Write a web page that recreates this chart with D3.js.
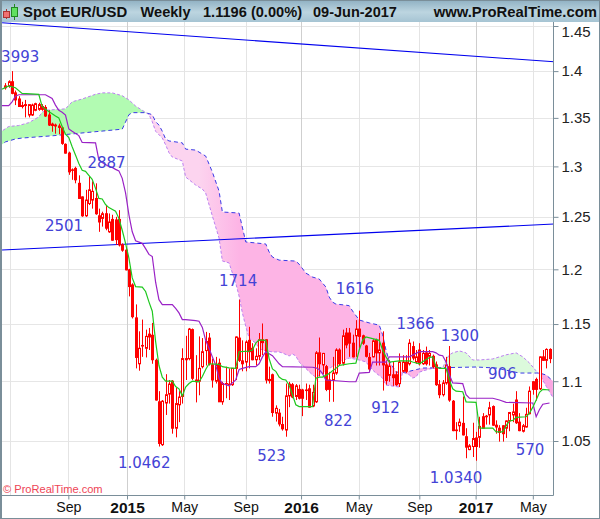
<!DOCTYPE html>
<html>
<head>
<meta charset="utf-8">
<style>
  body { margin: 0; background: #fff; }
  text { font-family: "Liberation Sans", Arial, sans-serif; }
  .note { font-family: "DejaVu Sans", sans-serif; font-size: 15px; fill: #4343d6; }
</style>
<script src="https://d3js.org/d3.v7.min.js"></script>
</head>
<body>
<script>
  // weekly candles, first one is the week of 21 Apr 2014
  const openP = [
    1.382,1.384,1.3885,1.3765,1.370,1.363,1.364,1.353,1.353,1.358,
    1.359,1.362,1.361,1.353,1.3435,1.3425,1.3415,1.3395,1.3225,1.3135,
    1.2965,1.298,1.283,1.2695,1.251,1.263,1.2664,1.268,1.251,1.2485,
    1.253,1.2355,1.2475,1.247,1.2475,1.223,1.218,1.1995,1.1855,1.1555,
    1.115,1.131,1.1285,1.141,1.140,1.118,1.0825,1.047,1.0815,1.089,
    1.100,1.0605,1.080,1.087,1.1195,1.1195,1.145,1.101,1.100,1.1125,
    1.1265,1.1375,1.114,1.1,1.1155,1.0825,1.098,1.0975,1.097,1.111,
    1.1375,1.1175,1.1165,1.1355,1.1285,1.1185,1.1215,1.136,1.136,1.1015,
    1.1055,1.073,1.073,1.0635,1.059,1.0875,1.097,1.087,1.093,1.0925,
    1.0925,1.0935,1.079,1.0825,1.1245,1.114,1.1125,1.101,1.101,1.107,
    1.127,1.1155,1.142,1.142,1.133,1.1395,1.1455,1.1395,1.1305,1.1205,
    1.121,1.1355,1.1245,1.133,1.114,1.105,1.1055,1.1055,1.098,1.1085,
    1.1165,1.115,1.130,1.1165,1.127,1.115,1.1245,1.1215,1.1215,1.114,
    1.097,1.0885,1.0985,1.1125,1.083,1.059,1.0625,1.0645,1.0535,1.043,
    1.0455,1.0525,1.053,1.070,1.0705,1.0715,1.0785,1.063,1.0605,1.0625,
    1.0605,1.0665,1.0715,1.084,1.0655,1.058,1.0615,1.0725,1.0995,1.1015,
    1.0935,1.121,1.118,1.1275];
  const highP = [
    1.387,1.390,1.400,1.379,1.373,1.367,1.369,1.364,1.365,1.366,
    1.366,1.3645,1.3635,1.358,1.345,1.344,1.344,1.341,1.3235,1.315,
    1.298,1.2997,1.291,1.270,1.2765,1.290,1.285,1.283,1.258,1.255,
    1.2605,1.2533,1.252,1.250,1.2565,1.2245,1.220,1.2005,1.187,1.1677,
    1.1435,1.154,1.145,1.1465,1.151,1.1195,1.0915,1.084,1.106,1.101,
    1.101,1.0945,1.0915,1.1285,1.1395,1.1465,1.146,1.1225,1.139,1.1375,
    1.143,1.142,1.1195,1.121,1.1195,1.0995,1.1125,1.111,1.111,1.139,
    1.172,1.1355,1.1355,1.1475,1.133,1.1285,1.142,1.1505,1.1365,1.1125,
    1.1065,1.0795,1.0765,1.070,1.098,1.0995,1.0985,1.0975,1.097,1.0935,
    1.098,1.097,1.097,1.126,1.138,1.1245,1.114,1.108,1.121,1.1285,
    1.1285,1.145,1.1465,1.1465,1.1405,1.1535,1.162,1.1405,1.1315,1.1245,
    1.1365,1.137,1.142,1.1435,1.117,1.118,1.1165,1.1085,1.124,1.1225,
    1.1225,1.1365,1.1345,1.127,1.133,1.127,1.13,1.127,1.123,1.117,
    1.101,1.101,1.121,1.1305,1.084,1.0655,1.0685,1.087,1.0605,1.0475,
    1.065,1.0575,1.070,1.073,1.0715,1.0825,1.0795,1.067,1.063,1.063,
    1.067,1.074,1.081,1.0915,1.073,1.064,1.0775,1.0955,1.100,1.103,
    1.1215,1.127,1.1285,1.1285];
  const lowP = [
    1.380,1.382,1.375,1.3635,1.362,1.360,1.3505,1.3505,1.352,1.357,
    1.3575,1.3575,1.351,1.3415,1.3355,1.3335,1.333,1.322,1.313,1.2915,
    1.2865,1.283,1.268,1.250,1.250,1.2615,1.258,1.252,1.2355,1.2405,
    1.237,1.2345,1.227,1.223,1.2215,1.2165,1.199,1.175,1.155,1.111,
    1.109,1.121,1.1205,1.127,1.115,1.0835,1.0455,1.046,1.0715,1.081,
    1.056,1.053,1.0655,1.081,1.101,1.118,1.101,1.082,1.088,1.111,
    1.1135,1.1135,1.0945,1.098,1.0825,1.080,1.0855,1.084,1.096,1.101,
    1.1165,1.1085,1.1085,1.111,1.118,1.1135,1.118,1.1225,1.098,1.098,
    1.070,1.066,1.062,1.0585,1.0535,1.078,1.0855,1.084,1.0845,1.0705,
    1.084,1.0775,1.078,1.0815,1.104,1.106,1.0915,1.0825,1.0825,1.1055,
    1.1135,1.1135,1.1285,1.121,1.1205,1.121,1.127,1.1315,1.1205,1.1085,
    1.1205,1.1135,1.1135,1.092,1.097,1.0995,1.096,1.096,1.095,1.1075,
    1.107,1.1135,1.118,1.115,1.1135,1.114,1.1135,1.1135,1.111,1.096,
    1.0855,1.087,1.097,1.0825,1.058,1.051,1.0575,1.0545,1.036,1.0425,
    1.037,1.034,1.0445,1.0605,1.0635,1.0635,1.0625,1.056,1.0495,1.0495,
    1.0525,1.058,1.0655,1.064,1.058,1.057,1.061,1.072,1.0885,1.0835,
    1.0925,1.1175,1.111,1.1155];
  const closeP = [
    1.384,1.3885,1.376,1.369,1.362,1.362,1.363,1.364,1.3635,1.365,
    1.364,1.359,1.352,1.3425,1.342,1.3415,1.340,1.3235,1.3135,1.2945,
    1.296,1.2865,1.268,1.251,1.2664,1.2765,1.275,1.253,1.245,1.253,
    1.239,1.245,1.2275,1.228,1.223,1.218,1.1995,1.184,1.1566,1.1205,
    1.1285,1.1305,1.139,1.1385,1.1185,1.084,1.048,1.083,1.0885,1.0975,
    1.0605,1.081,1.0865,1.1195,1.1185,1.1455,1.1025,1.0995,1.111,1.1255,
    1.1345,1.115,1.101,1.114,1.0825,1.098,1.0975,1.097,1.111,1.1385,
    1.118,1.115,1.134,1.1255,1.1185,1.1215,1.136,1.1335,1.101,1.1005,
    1.0735,1.077,1.064,1.060,1.0875,1.0975,1.0865,1.096,1.0855,1.0855,
    1.092,1.078,1.0905,1.1245,1.115,1.124,1.093,1.093,1.107,1.127,
    1.115,1.1395,1.1315,1.133,1.121,1.1455,1.139,1.133,1.1215,1.1105,
    1.135,1.1245,1.127,1.114,1.1005,1.113,1.103,1.097,1.1165,1.1165,
    1.1085,1.133,1.12,1.121,1.115,1.124,1.115,1.124,1.1125,1.097,
    1.0885,1.0985,1.114,1.084,1.0585,1.0585,1.0655,1.055,1.045,1.046,
    1.052,1.0455,1.062,1.0605,1.070,1.0775,1.063,1.0615,1.057,1.056,
    1.0665,1.0735,1.074,1.065,1.0585,1.0625,1.072,1.0915,1.093,1.093,
    1.121,1.118,1.1275,1.1195];

  // ichimoku lines, read at their corners only: week number, then price
  const tenkanWeeks = [-1,1,3,5,10,11,12,15,16,17,18,19,20,21,22,23,24,25,26,27,28,29,30,31,33,34,35,36,37,38,39,41,42,43,44,45,46,47,48,50,51,52,53,54,55,56,58,59,60,61,64,65,67,69,70,73,74,75,76,78,79,80,81,82,83,84,85,86,87,88,91,92,93,94,95,96,97,98,99,100,101,103,105,106,107,108,110,112,113,114,115,118,121,122,124,127,128,129,130,132,133,134,135,137,138,141,142,146,147,149,150,151,152,153,156,157,158,159,160,161,163];
  const tenkanValues = [1.3805,1.384,1.382,1.376,1.375,1.362,1.359,1.352,1.350,1.341,1.333,1.3295,1.320,1.3115,1.303,1.296,1.295,1.291,1.287,1.278,1.268,1.2675,1.262,1.259,1.2555,1.2485,1.237,1.2245,1.2105,1.192,1.184,1.1835,1.1795,1.170,1.1615,1.1345,1.1135,1.1035,1.100,1.100,1.0955,1.0935,1.0875,1.095,1.098,1.100,1.0995,1.104,1.110,1.115,1.1145,1.1125,1.1115,1.111,1.1255,1.126,1.127,1.133,1.136,1.1355,1.1195,1.1105,1.1085,1.1035,1.1015,1.101,1.0965,1.0885,1.080,1.0785,1.0785,1.0785,1.1025,1.1035,1.1035,1.105,1.1065,1.109,1.111,1.1135,1.114,1.115,1.1155,1.127,1.1355,1.1385,1.137,1.1355,1.127,1.121,1.1165,1.1175,1.1175,1.1165,1.115,1.1205,1.121,1.1125,1.111,1.111,1.101,1.0935,1.0915,1.091,1.0825,1.082,1.0605,1.0605,1.0575,1.0575,1.0625,1.0665,1.067,1.0695,1.070,1.073,1.078,1.084,1.0905,1.093,1.0925];
  const kijunWeeks = [-2,1,2,3,4,12,14,15,16,17,18,19,20,22,23,27,28,29,30,31,32,33,34,35,36,37,38,39,41,42,43,44,45,46,47,50,51,52,53,54,57,58,59,60,61,62,63,64,65,67,69,70,71,73,75,76,77,78,80,82,83,92,93,94,95,96,103,105,106,109,110,114,115,121,124,128,129,130,131,132,133,134,137,138,139,146,148,150,158,159,160,161,163];
  const kijunValues = [1.363,1.363,1.367,1.373,1.3745,1.3745,1.3705,1.3635,1.358,1.356,1.353,1.3385,1.336,1.3315,1.3245,1.324,1.3065,1.304,1.302,1.300,1.299,1.297,1.2955,1.288,1.2735,1.252,1.2355,1.227,1.2245,1.2195,1.214,1.212,1.188,1.172,1.1675,1.1675,1.164,1.160,1.154,1.154,1.153,1.1525,1.147,1.1355,1.1285,1.121,1.114,1.1025,1.098,1.096,1.101,1.110,1.111,1.1125,1.1125,1.115,1.121,1.1255,1.122,1.115,1.1125,1.112,1.1115,1.110,1.1065,1.101,1.0995,1.0995,1.107,1.1075,1.1165,1.1165,1.121,1.121,1.1255,1.1255,1.1245,1.1225,1.122,1.1165,1.1055,1.0985,1.098,1.0885,1.0855,1.0855,1.084,1.082,1.0815,1.070,1.076,1.0805,1.0815];
  const spanAWeeks = [-2,1,4,7,10,11,12,18,20,23,27,29,32,35,37,39,41,43,44,45,47,48,49,50,53,54,57,59,60,62,64,65,67,69,70,71,72,73,75,76,77,80,82,83,85,86,87,88,90,92,93,95,100,103,106,108,110,111,113,114,118,119,121,122,123,124,127,129,131,132,133,134,136,138,140,142,146,150,153,155,157,159,160,162,164];
  const spanAValues = [1.334,1.341,1.342,1.345,1.351,1.356,1.358,1.3595,1.367,1.370,1.375,1.3765,1.3765,1.3735,1.369,1.3625,1.358,1.3535,1.346,1.336,1.329,1.322,1.314,1.3095,1.3055,1.2893,1.2813,1.2773,1.2733,1.2508,1.2296,1.2078,1.206,1.1873,1.1753,1.1599,1.148,1.1375,1.133,1.1288,1.127,1.1253,1.1253,1.1244,1.1218,1.1235,1.1218,1.1165,1.111,1.1054,1.1036,1.107,1.1166,1.12,1.1183,1.1166,1.1096,1.107,1.1027,1.0967,1.095,1.1078,1.1054,1.1027,1.1036,1.1078,1.1105,1.1113,1.1113,1.1183,1.1228,1.1245,1.1262,1.1245,1.1183,1.1183,1.1192,1.1228,1.1245,1.121,1.1157,1.1088,1.106,1.0957,1.0862];
  const spanBWeeks = [-2,0,3,5,14,35,37,38,42,43,44,45,46,47,48,49,53,54,57,59,60,62,64,65,70,72,78,79,80,82,87,88,90,92,94,96,97,98,99,102,103,104,106,109,112,113,114,115,117,120,125,131,141,147,154,159,160,162,164];
  const spanBValues = [1.320,1.325,1.328,1.329,1.3313,1.3382,1.3533,1.3555,1.3555,1.3545,1.3533,1.346,1.3425,1.336,1.328,1.326,1.324,1.3176,1.3166,1.3125,1.3105,1.2943,1.2753,1.2547,1.2537,1.2258,1.2239,1.2163,1.2115,1.2086,1.2077,1.2048,1.1965,1.1928,1.191,1.1836,1.1744,1.1698,1.168,1.167,1.1665,1.1617,1.1536,1.151,1.149,1.1405,1.127,1.1174,1.1078,1.1078,1.1113,1.1116,1.1122,1.1113,1.107,1.107,1.107,1.1053,1.1002];

  // the two hand drawn trend lines, price at the left and right end
  const trendWeeks = [-1, 165];
  const upperTrend = [1.4536, 1.410];
  const lowerTrend = [1.2182, 1.2431];

  const priceTicks = [1.45, 1.4, 1.35, 1.3, 1.25, 1.2, 1.15, 1.1, 1.05];
  const monthTicks = ["2014-08-31", "2015-01-01", "2015-05-01", "2015-09-07", "2016-01-01", "2016-05-01", "2016-09-05", "2017-01-01", "2017-05-01"];
  const monthLabels = ["Sep", "2015", "May", "Sep", "2016", "May", "Sep", "2017", "May"];
  const extraGrid = ["2014-05-01"];

  const noteTexts = ["3993", "2887", "2501", "1714", "1616", "1366", "1300", "906", "912", "822", "523", "1.0462", "1.0340", "570"];
  const noteWeeks = [-1.3, 24.6, 11.9, 64, 99, 117.2, 130.4, 144.6, 109.5, 95.4, 75.4, 33.7, 127.1, 152.9];
  const notePrices = [1.41, 1.2984, 1.2363, 1.1845, 1.1772, 1.1456, 1.1352, 1.1019, 1.0731, 1.0623, 1.0338, 1.0284, 1.0163, 1.0386];

  const width = 600, height = 519;
  const plot = { left: 2, right: 553.5, top: 22, bottom: 495.5 };

  const parseDay = d3.timeParse("%Y-%m-%d");
  const firstWeek = parseDay("2014-04-21");
  const weekDate = (i) => d3.timeDay.offset(firstWeek, Math.round(i * 7));

  const x = d3.scaleTime()
    .domain([parseDay("2015-01-01"), parseDay("2017-01-01")])
    .range([127, 475.6]);
  const y = d3.scaleLog()
    .domain([1.05, 1.45])
    .range([441, 26]);

  const svg = d3.select("body").append("svg")
    .attr("width", width)
    .attr("height", height)
    .style("display", "block");

  const defs = svg.append("defs");
  defs.append("clipPath").attr("id", "plot-clip")
    .append("rect")
    .attr("x", plot.left).attr("y", plot.top)
    .attr("width", plot.right - plot.left).attr("height", plot.bottom - plot.top);

  const head = defs.append("linearGradient").attr("id", "head")
    .attr("x1", 0).attr("x2", 0).attr("y1", 0).attr("y2", 1);
  head.append("stop").attr("offset", "0%").attr("stop-color", "#8fb0c2");
  head.append("stop").attr("offset", "55%").attr("stop-color", "#bcd5e0");
  head.append("stop").attr("offset", "100%").attr("stop-color", "#a6c4d3");

  const pink = defs.append("linearGradient").attr("id", "pink")
    .attr("gradientUnits", "userSpaceOnUse")
    .attr("x1", x(weekDate(58))).attr("x2", x(weekDate(70)))
    .attr("y1", 0).attr("y2", 0);
  pink.append("stop").attr("offset", "0%").attr("stop-color", "#fcd4ef");
  pink.append("stop").attr("offset", "100%").attr("stop-color", "#fdb4e5");

  // header and frame
  svg.append("rect").attr("width", width).attr("height", plot.top).attr("fill", "url(#head)");

  const title = svg.append("g").attr("font-weight", "bold").attr("fill", "#111");
  title.append("text").attr("x", 23).attr("y", 17).attr("font-size", 14.9).text("Spot EUR/USD");
  title.append("text").attr("x", 140.5).attr("y", 17).attr("font-size", 14.6).text("Weekly");
  title.append("text").attr("x", 203).attr("y", 17).attr("font-size", 14.6).text("1.1196 (0.00%)");
  title.append("text").attr("x", 313).attr("y", 17).attr("font-size", 14.5).text("09-Jun-2017");
  title.append("text").attr("x", 597).attr("y", 17).attr("font-size", 14.85).attr("text-anchor", "end").text("www.ProRealTime.com");

  // little candle logo
  const logo = svg.append("g");
  logo.append("line").attr("x1", 6.5).attr("x2", 6.5).attr("y1", 9).attr("y2", 19).attr("stroke", "#a33");
  logo.append("rect").attr("x", 3.5).attr("y", 11.5).attr("width", 6).attr("height", 6).attr("fill", "#f07070").attr("stroke", "#a33");
  logo.append("line").attr("x1", 14.5).attr("x2", 14.5).attr("y1", 4).attr("y2", 20).attr("stroke", "#282");
  logo.append("rect").attr("x", 11.5).attr("y", 7.5).attr("width", 6).attr("height", 9).attr("fill", "#60e060").attr("stroke", "#282");

  // grid
  const grid = svg.append("g").attr("clip-path", "url(#plot-clip)");
  grid.selectAll(".h").data(priceTicks).join("line")
    .attr("x1", plot.left).attr("x2", plot.right)
    .attr("y1", (d) => Math.round(y(d)) + 0.5).attr("y2", (d) => Math.round(y(d)) + 0.5)
    .attr("stroke", "#e6e6e6");
  grid.selectAll(".v").data(monthTicks.concat(extraGrid)).join("line")
    .attr("x1", (d) => Math.round(x(parseDay(d))) + 0.5).attr("x2", (d) => Math.round(x(parseDay(d))) + 0.5)
    .attr("y1", plot.top).attr("y2", plot.bottom)
    .attr("stroke", (d) => (monthLabels[monthTicks.indexOf(d)] || "").startsWith("20") ? "#cfcfcf" : "#e4e4e4");

  const chart = svg.append("g").attr("clip-path", "url(#plot-clip)");

  // cloud
  const spanA = spanAWeeks.map((w, i) => [w, spanAValues[i]]);
  const spanB = spanBWeeks.map((w, i) => [w, spanBValues[i]]);
  const line = d3.line()
    .x((d) => x(weekDate(d[0])))
    .y((d) => y(d[1]));

  function cloud(from, to, fill) {
    const a = spanA.filter((d) => d[0] >= from && d[0] <= to);
    const b = spanB.filter((d) => d[0] >= from && d[0] <= to).reverse();
    chart.append("path").attr("d", line(a.concat(b)) + "Z").attr("fill", fill);
  }
  cloud(-2, 43, "#b2fbb2");
  cloud(43, 131, "url(#pink)");
  cloud(131, 160, "#dcfadc");
  cloud(160, 164, "#fba6e2");

  chart.append("path").datum(spanA).attr("d", line)
    .attr("fill", "none").attr("stroke", "#bb7ff0").attr("stroke-dasharray", "3,2");
  chart.append("path").datum(spanB).attr("d", line)
    .attr("fill", "none").attr("stroke", "#3a3ae6").attr("stroke-dasharray", "4,3");

  // trend lines
  for (const trend of [upperTrend, lowerTrend]) {
    chart.append("path").datum(trendWeeks.map((w, i) => [w, trend[i]])).attr("d", line)
      .attr("fill", "none").attr("stroke", "#0000ee").attr("stroke-width", 1.1);
  }

  // candles
  const candles = chart.selectAll(".candle").data(d3.range(openP.length)).join("g")
    .attr("transform", (i) => "translate(" + Math.round(x(weekDate(i))) + ",0)");
  candles.append("line")
    .attr("x1", 0.5).attr("x2", 0.5)
    .attr("y1", (i) => y(highP[i])).attr("y2", (i) => y(lowP[i]))
    .attr("stroke", "#ff0000");
  candles.append("rect")
    .attr("x", -0.5).attr("width", 2)
    .attr("y", (i) => y(Math.max(openP[i], closeP[i])))
    .attr("height", (i) => Math.max(0.5, Math.abs(y(openP[i]) - y(closeP[i]))))
    .attr("fill", (i) => closeP[i] >= openP[i] ? "#fff" : "#ff0000")
    .attr("stroke", "#ff0000");

  // tenkan and kijun
  chart.append("path").datum(kijunWeeks.map((w, i) => [w, kijunValues[i]])).attr("d", line)
    .attr("fill", "none").attr("stroke", "#9a22c6").attr("stroke-width", 1.2);
  chart.append("path").datum(tenkanWeeks.map((w, i) => [w, tenkanValues[i]])).attr("d", line)
    .attr("fill", "none").attr("stroke", "#1fc81f").attr("stroke-width", 1.2);

  // numbers written on the chart
  svg.append("g").selectAll("text").data(noteTexts).join("text")
    .attr("class", "note")
    .attr("x", (d, i) => x(weekDate(noteWeeks[i])))
    .attr("y", (d, i) => y(notePrices[i]))
    .text((d) => d);

  svg.append("text")
    .attr("x", 3).attr("y", 492.5)
    .attr("font-size", 11.1).attr("fill", "#ee4455")
    .text("\u00a9 ProRealTime.com");

  // axes
  const yAxis = svg.append("g")
    .attr("transform", "translate(" + plot.right + ",0)")
    .call(d3.axisRight(y).tickValues(priceTicks).tickSize(5).tickPadding(3).tickFormat((d) => d));
  yAxis.select(".domain").remove();
  yAxis.selectAll("line").attr("stroke", "#7a8e99");
  yAxis.selectAll("text").attr("font-size", 15).attr("font-family", "Liberation Sans").attr("fill", "#222");
  // the top label sits a little under its tick, clear of the header
  yAxis.selectAll("text").filter((d) => d === 1.45).attr("dy", "0.7em");

  const xAxis = svg.append("g")
    .attr("transform", "translate(0," + plot.bottom + ")")
    .call(d3.axisBottom(x).tickValues(monthTicks.map(parseDay)).tickSize(4).tickPadding(2)
      .tickFormat((d, i) => monthLabels[i]));
  xAxis.select(".domain").remove();
  xAxis.selectAll("line").attr("stroke", "#7a8e99");
  xAxis.selectAll("text")
    .attr("font-family", "Liberation Sans")
    .attr("fill", "#111")
    .attr("font-size", (d, i) => monthLabels[i].startsWith("20") ? 15.5 : 14.2)
    .attr("font-weight", (d, i) => monthLabels[i].startsWith("20") ? "bold" : "normal");

  const frame = svg.append("g").attr("stroke", "#7a8e99").attr("fill", "none");
  frame.append("line").attr("x1", 0).attr("x2", plot.right).attr("y1", plot.bottom).attr("y2", plot.bottom);
  frame.append("line").attr("x1", plot.right).attr("x2", plot.right).attr("y1", plot.top).attr("y2", plot.bottom);
  frame.append("rect").attr("x", 0.5).attr("y", 0.5).attr("width", width - 1).attr("height", height - 1);
  frame.append("line").attr("x1", 1.5).attr("x2", 1.5).attr("y1", 0).attr("y2", height);
</script>
</body>
</html>
